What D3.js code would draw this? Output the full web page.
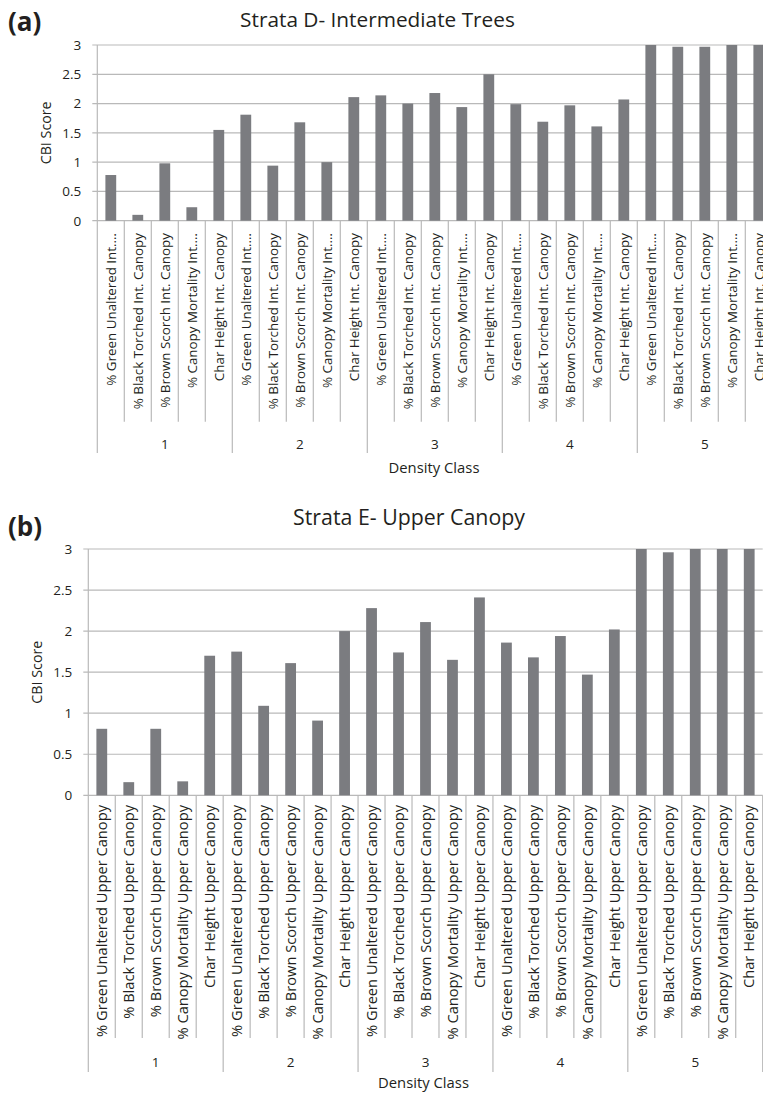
<!DOCTYPE html>
<html>
<head>
<meta charset="utf-8">
<script src="https://cdn.jsdelivr.net/npm/d3@7"></script>
<style>
  html, body { margin: 0; padding: 0; background: #fff; }
  svg { display: block; }
  text { font-family: "Open Sans", "Noto Sans", sans-serif; fill: #231f20; }
</style>
</head>
<body>
<svg id="fig" width="763" height="1096"></svg>
<script>
// Density classes (outer axis groups)
const densityClasses = ["1", "2", "3", "4", "5"];

// Inner category labels for each panel
const intCanopyLabels = [
  "% Green Unaltered Int.\u2026",
  "% Black Torched Int. Canopy",
  "% Brown Scorch Int. Canopy",
  "% Canopy Mortality Int.\u2026",
  "Char Height Int. Canopy"
];
const upperCanopyLabels = [
  "% Green Unaltered Upper Canopy",
  "% Black Torched Upper Canopy",
  "% Brown Scorch Upper Canopy",
  "% Canopy Mortality Upper Canopy",
  "Char Height Upper Canopy"
];

// CBI scores, five variables per density class (classes 1..5)
const strataDScores = [
  0.78, 0.10, 0.98, 0.23, 1.55,
  1.81, 0.94, 1.68, 1.00, 2.11,
  2.14, 2.00, 2.18, 1.94, 2.50,
  1.99, 1.69, 1.97, 1.61, 2.07,
  3.00, 2.97, 2.97, 3.00, 3.00
];
const strataEScores = [
  0.81, 0.16, 0.81, 0.17, 1.70,
  1.75, 1.09, 1.61, 0.91, 2.00,
  2.28, 1.74, 2.11, 1.65, 2.41,
  1.86, 1.68, 1.94, 1.47, 2.02,
  3.00, 2.96, 3.00, 3.00, 3.00
];

// Value axis ticks
const yTicks = [0, 0.5, 1, 1.5, 2, 2.5, 3];
const yTickLabels = ["0", "0.5", "1", "1.5", "2", "2.5", "3"];

const svg = d3.select("#fig");
svg.append("rect").attr("width", 763).attr("height", 1096).attr("fill", "#fff");

const GRID = "#b9b9b9";
const BAR = "#7b7c80";

// font size at which a string spans the given width
function fitSize(str, width, weight) {
  const t = svg.append("text").attr("font-size", 20).attr("font-weight", weight || "normal").text(str);
  const w = t.node().getComputedTextLength();
  t.remove();
  return 20 * width / w;
}

function drawPanel(p) {
  const g = svg.append("g");
  const rows = [];
  densityClasses.forEach((dc, gi) => {
    p.labels.forEach((lab, li) => {
      rows.push({ key: dc + "|" + li, group: dc, label: lab, value: p.values[gi * p.labels.length + li] });
    });
  });

  const x = d3.scaleBand()
    .domain(rows.map(r => r.key))
    .range([p.left, p.right])
    .paddingInner(0.6)
    .paddingOuter(0.3);
  const step = x.step();
  const y = d3.scaleLinear().domain([0, 3]).range([p.zero, p.top]);

  // clip so the plot runs off the right edge of the page
  const clipId = "clip" + p.id;
  g.append("clipPath").attr("id", clipId)
    .append("rect").attr("x", 0).attr("y", 0).attr("width", 763).attr("height", 1096);
  const body = g.append("g").attr("clip-path", `url(#${clipId})`);

  // horizontal gridlines with short outside ticks
  body.selectAll("line.grid").data(yTicks).join("line")
    .attr("x1", p.left - 5).attr("x2", p.right)
    .attr("y1", d => y(d)).attr("y2", d => y(d))
    .attr("stroke", GRID).attr("stroke-width", 1.2);

  // bars
  body.selectAll("rect.bar").data(rows).join("rect")
    .attr("x", d => x(d.key))
    .attr("width", x.bandwidth())
    .attr("y", d => y(d.value))
    .attr("height", d => y(0) - y(d.value))
    .attr("fill", BAR);

  // value axis line
  body.append("line")
    .attr("x1", p.left).attr("x2", p.left)
    .attr("y1", p.top).attr("y2", p.groupLineBottom)
    .attr("stroke", GRID).attr("stroke-width", 1.2);

  // category divider lines (inner and group boundaries)
  const boundaries = d3.range(1, rows.length + 1);
  body.selectAll("line.div").data(boundaries).join("line")
    .attr("x1", i => p.left + i * step).attr("x2", i => p.left + i * step)
    .attr("y1", p.zero)
    .attr("y2", i => i % p.labels.length === 0 ? p.groupLineBottom : p.innerLineBottom)
    .attr("stroke", GRID).attr("stroke-width", 1.2);

  // inner category labels (rotated)
  const catFont = fitSize(p.labels[0], p.catWidth);
  body.selectAll("text.cat").data(rows).join("text")
    .attr("transform", d => `translate(${x(d.key) + x.bandwidth() / 2},${p.labelTop}) rotate(-90)`)
    .attr("text-anchor", "end")
    .attr("dy", "0.36em")
    .attr("font-size", catFont)
    .text(d => d.label);

  // density class labels
  const n = p.labels.length;
  body.selectAll("text.grp").data(densityClasses).join("text")
    .attr("x", (d, i) => p.left + (i * n + n / 2) * step)
    .attr("y", p.groupLabelY)
    .attr("text-anchor", "middle")
    .attr("font-size", 13.5)
    .text(d => d);

  // value tick labels
  g.selectAll("text.ytick").data(yTicks).join("text")
    .attr("x", p.left - 16)
    .attr("y", d => y(d))
    .attr("dy", "0.36em")
    .attr("text-anchor", "end")
    .attr("font-size", 13.5)
    .text((d, i) => yTickLabels[i]);

  // axis titles
  g.append("text")
    .attr("transform", `translate(${p.left - 51},${(p.top + p.zero) / 2}) rotate(-90)`)
    .attr("text-anchor", "middle").attr("dy", "0.36em")
    .attr("font-size", fitSize("CBI Score", 63))
    .text("CBI Score");
  g.append("text")
    .attr("x", p.xTitleX).attr("y", p.xTitleY)
    .attr("text-anchor", "middle")
    .attr("font-size", fitSize("Density Class", 91))
    .text("Density Class");

  // chart title and panel letter
  g.append("text")
    .attr("x", p.titleX).attr("y", p.titleY)
    .attr("text-anchor", "middle")
    .attr("font-size", fitSize(p.title, p.titleWidth))
    .text(p.title);
  g.append("text")
    .attr("x", 8).attr("y", p.letterY)
    .attr("font-size", 26).attr("font-weight", "bold")
    .text(p.letter);
}

drawPanel({
  id: "a", letter: "(a)", letterY: 31,
  title: "Strata D- Intermediate Trees", titleX: 377.5, titleY: 27, titleWidth: 275,
  labels: intCanopyLabels, values: strataDScores,
  left: 97.3, right: 772.3, top: 45, zero: 220.7,
  labelTop: 233, catWidth: 153, innerLineBottom: 421.7, groupLineBottom: 453, groupLabelY: 449,
  xTitleX: 434, xTitleY: 473
});

drawPanel({
  id: "b", letter: "(b)", letterY: 536,
  title: "Strata E- Upper Canopy", titleX: 409, titleY: 525, titleWidth: 232,
  labels: upperCanopyLabels, values: strataEScores,
  left: 88.3, right: 762.7, top: 549, zero: 795.3,
  labelTop: 805, catWidth: 232, innerLineBottom: 1038, groupLineBottom: 1072, groupLabelY: 1067,
  xTitleX: 423.5, xTitleY: 1088
});
</script>
</body>
</html>
